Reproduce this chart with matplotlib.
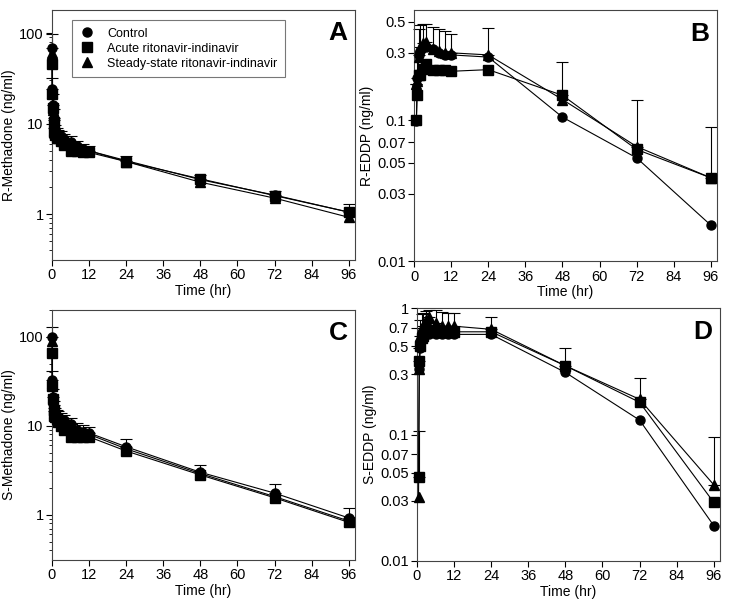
import matplotlib
matplotlib.use("Agg")
import matplotlib.pyplot as plt
from matplotlib.ticker import FixedLocator, FixedFormatter, LogLocator, NullFormatter
import numpy as np

plt.rcParams['font.family'] = ['Liberation Sans', 'DejaVu Sans']

# sampling times (hr)
t_meth = [0.033, 0.083, 0.25, 0.5, 0.75, 1, 1.5, 2, 3, 4, 6, 8, 10, 12, 24, 48, 72, 96]
t_eddp = [0.5, 0.75, 1, 1.5, 2, 3, 4, 6, 8, 10, 12, 24, 48, 72, 96]

group_names = ["Control", "Acute ritonavir-indinavir", "Steady-state ritonavir-indinavir"]

# A: R-methadone
r_meth_ctrl = [68, 24, 16, 11.5, 9, 8.2, 7.8, 7.5, 7.2, 6.8, 6.3, 5.6, 5.3, 5.0, 3.9, 2.4, 1.62, 1.05]
r_meth_acute = [46, 21, 15, 10.5, 8, 7.5, 7.0, 7.0, 6.5, 5.8, 5.0, 5.0, 4.8, 4.8, 3.8, 2.45, 1.6, 1.05]
r_meth_ss = [60, 22, 14, 10, 8.5, 7.8, 7.5, 7.2, 6.8, 6.3, 5.3, 5.3, 5.2, 5.0, 3.8, 2.25, 1.5, 0.92]
r_meth_sd = [30, 8, 5, 3, 2, 1.5, 1.2, 1.0, 1.0, 0.9, 0.9, 0.8, 0.7, 0.6, 0.5, 0.25, 0.2, 0.25]

# B: R-EDDP
r_eddp_ctrl = [np.nan, 0.098, 0.20, 0.29, 0.31, 0.33, 0.33, 0.32, 0.30, 0.29, 0.29, 0.28, 0.105, 0.054, 0.018]
r_eddp_acute = [np.nan, 0.10, 0.15, 0.21, 0.21, 0.23, 0.25, 0.225, 0.225, 0.225, 0.222, 0.228, 0.15, 0.062, 0.039]
r_eddp_ss = [np.nan, 0.18, 0.19, 0.28, 0.33, 0.35, 0.36, 0.32, 0.31, 0.30, 0.30, 0.29, 0.14, 0.065, 0.039]
r_eddp_sd = [0, 0, 0.1, 0.15, 0.14, 0.13, 0.12, 0.14, 0.13, 0.13, 0.11, 0.16, 0.11, 0.075, 0.051]

# C: S-methadone
s_meth_ctrl = [100, 33, 21, 16, 14.5, 14, 13, 12.5, 12, 11.5, 10.5, 9.0, 8.5, 8.3, 5.8, 3.0, 1.75, 0.92]
s_meth_acute = [65, 28, 20, 15, 13, 12.5, 12, 11, 10, 9.0, 7.5, 7.5, 7.5, 7.5, 5.2, 2.8, 1.55, 0.82]
s_meth_ss = [90, 30, 21, 15, 14, 13.5, 12.5, 12, 11.5, 10.5, 9.0, 8.5, 8.5, 8.0, 5.5, 2.9, 1.6, 0.85]
s_meth_sd = [30, 8, 5, 3, 2.5, 2, 2, 2, 2, 1.8, 1.8, 1.8, 1.6, 1.5, 1.3, 0.6, 0.45, 0.28]

# D: S-EDDP
s_eddp_ctrl = [np.nan, 0.33, 0.48, 0.60, 0.63, 0.65, 0.63, 0.63, 0.62, 0.62, 0.62, 0.62, 0.31, 0.13, 0.019]
s_eddp_acute = [0.046, 0.38, 0.50, 0.58, 0.60, 0.67, 0.67, 0.65, 0.65, 0.65, 0.65, 0.65, 0.35, 0.18, 0.029]
s_eddp_ss = [0.032, 0.33, 0.60, 0.70, 0.72, 0.80, 0.85, 0.76, 0.72, 0.72, 0.72, 0.68, 0.35, 0.19, 0.040]
s_eddp_sd = [0.06, 0.1, 0.2, 0.2, 0.2, 0.15, 0.12, 0.2, 0.22, 0.2, 0.2, 0.17, 0.13, 0.09, 0.055]

markers = ['o', 's', '^']

fig = plt.figure(figsize=(7.29, 6.09), dpi=100)
axA = fig.add_axes([0.0713, 0.573, 0.4156, 0.4105])
axB = fig.add_axes([0.568, 0.571, 0.4156, 0.412])
axC = fig.add_axes([0.0713, 0.0805, 0.4156, 0.4105])
axD = fig.add_axes([0.572, 0.079, 0.4156, 0.415])


def draw_panel(ax, t, series, sd, ylabel, letter, ylim, yticks, yticklabels):
    for i, y in enumerate(series):
        y = np.array(y, dtype=float)
        ax.plot(t, y, color='black', lw=0.8, marker=markers[i], ms=6.5,
                mfc='black', mec='black', label=group_names[i], zorder=3,
                clip_on=False)
    # upward error bars on the highest series
    top = np.nanmax(np.array(series, dtype=float), axis=0)
    eb = ax.errorbar(t, top, yerr=[np.zeros(len(t)), sd], fmt='none', ecolor='black',
                     elinewidth=0.8, capsize=4, capthick=0.8, zorder=2)
    for art in eb.get_children():
        art.set_clip_on(False)
    ax.set_yscale('log')
    ax.set_xlim(0, 98)
    ax.set_ylim(*ylim)
    ax.set_xticks([0, 12, 24, 36, 48, 60, 72, 84, 96])
    ax.yaxis.set_major_locator(FixedLocator(yticks))
    ax.yaxis.set_major_formatter(FixedFormatter(yticklabels))
    ax.yaxis.set_minor_formatter(NullFormatter())
    ax.set_xlabel('Time (hr)', fontsize=10, labelpad=1)
    ax.set_ylabel(ylabel, fontsize=10, labelpad=2)
    ax.tick_params(axis='both', labelsize=10.5, length=4, width=0.8, pad=2)
    ax.tick_params(axis='y', which='minor', length=2, width=0.6)
    for s in ax.spines.values():
        s.set_linewidth(0.8)
        s.set_color('#444444')
    ax.text(0.975, 0.955, letter, transform=ax.transAxes, ha='right', va='top',
            fontsize=19, fontweight='bold')


draw_panel(axA, t_meth, [r_meth_ctrl, r_meth_acute, r_meth_ss], r_meth_sd,
           'R-Methadone (ng/ml)', 'A', (0.31, 180), [1, 10, 100], ['1', '10', '100'])
axA.yaxis.set_minor_locator(LogLocator(base=10, subs=np.arange(2, 10)))
draw_panel(axB, t_eddp, [r_eddp_ctrl, r_eddp_acute, r_eddp_ss], r_eddp_sd,
           'R-EDDP (ng/ml)', 'B', (0.01, 0.6),
           [0.01, 0.03, 0.05, 0.07, 0.1, 0.3, 0.5],
           ['0.01', '0.03', '0.05', '0.07', '0.1', '0.3', '0.5'])
axB.yaxis.set_minor_locator(FixedLocator([]))
draw_panel(axC, t_meth, [s_meth_ctrl, s_meth_acute, s_meth_ss], s_meth_sd,
           'S-Methadone (ng/ml)', 'C', (0.31, 200), [1, 10, 100], ['1', '10', '100'])
axC.yaxis.set_minor_locator(LogLocator(base=10, subs=np.arange(2, 10)))
draw_panel(axD, t_eddp, [s_eddp_ctrl, s_eddp_acute, s_eddp_ss], s_eddp_sd,
           'S-EDDP (ng/ml)', 'D', (0.01, 1.0),
           [0.01, 0.03, 0.05, 0.07, 0.1, 0.3, 0.5, 0.7, 1],
           ['0.01', '0.03', '0.05', '0.07', '0.1', '0.3', '0.5', '0.7', '1'])
axD.yaxis.set_minor_locator(FixedLocator([]))

leg = axA.legend(loc='upper left', bbox_to_anchor=(0.066, 0.96), fontsize=9,
                 frameon=True, fancybox=False, edgecolor='#555555', borderaxespad=0,
                 handlelength=1.2, handletextpad=1.0, borderpad=0.6, labelspacing=0.25)
leg.get_frame().set_linewidth(0.8)
for h in leg.get_lines():
    h.set_linestyle('none')

fig.savefig('out.png', dpi=100)
